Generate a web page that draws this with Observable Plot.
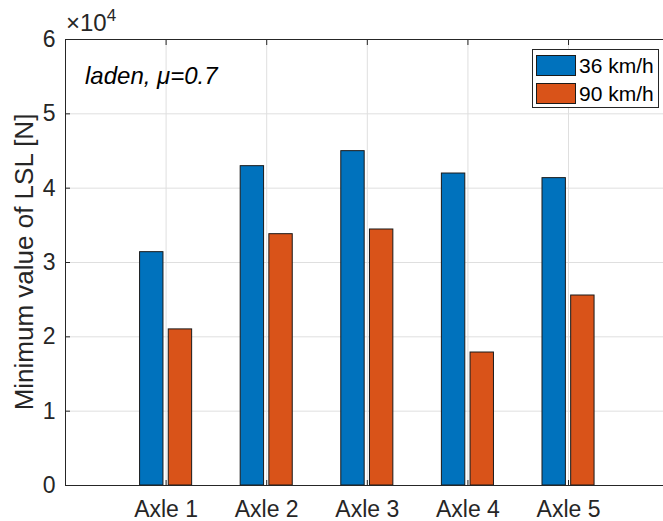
<!DOCTYPE html>
<html><head><meta charset="utf-8">
<script src="https://cdn.jsdelivr.net/npm/d3@7"></script>
<script src="https://cdn.jsdelivr.net/npm/@observablehq/plot@0.6"></script>
<style>
body{margin:0;background:#fff;}
#wrap{position:relative;width:663px;height:521px;overflow:hidden;font-family:"Liberation Sans",Arial,Helvetica,sans-serif;color:#262626;}
#wrap svg{position:absolute;left:0;top:0;}
.ov{position:absolute;white-space:nowrap;}
#expo{left:66px;top:11px;font-size:24px;line-height:24px;}
#expo sup{font-size:17px;position:relative;top:-4px;vertical-align:top;line-height:17px;}
#note{left:85px;top:64px;font-size:24px;line-height:24px;font-style:italic;color:#000;}
#ylab{left:24px;top:262px;font-size:26px;line-height:26px;transform:translate(-50%,-50%) rotate(-90deg);}
#legend{position:absolute;left:532px;top:49px;width:127px;height:59px;box-sizing:border-box;border:1px solid #262626;background:#fff;}
.lrow{position:absolute;left:3px;height:21px;width:120px;}
.sw{position:absolute;left:0;top:0;width:40px;height:21px;box-sizing:border-box;border:1px solid #1a1a1a;}
.lt{position:absolute;left:43px;top:0;line-height:21px;font-size:21px;color:#000;}
</style></head><body><div id="wrap"></div>
<script>
// ---- data ----
const axles = ["Axle 1", "Axle 2", "Axle 3", "Axle 4", "Axle 5"];
const speeds = ["36 km/h", "90 km/h"];
const lsl36 = [31390, 42960, 44980, 41970, 41350];
const lsl90 = [21000, 33810, 34440, 17890, 25560];
const colors = ["#0072BD", "#D95319"];
const yTicks = [0, 1, 2, 3, 4, 5, 6];
const xTicks = [1, 2, 3, 4, 5];
const exponent = 4;
const yLabel = "Minimum value of LSL [N]";
const note = "laden, \u03BC=0.7";

// ---- build table ----
const offsets = [-0.1425, 0.1425];
const barW = 0.2325;
const rows = [];
axles.forEach((a, i) => {
  [lsl36, lsl90].forEach((s, j) => rows.push({pos: xTicks[i], series: speeds[j], j, v: s[i] / 10 ** exponent}));
});

const innerTicksY = yTicks.slice(1, -1);
const axisColor = "#262626";

const chart = Plot.plot({
  width: 663, height: 521,
  marginLeft: 65, marginRight: 0, marginTop: 39, marginBottom: 36,
  style: {fontFamily: "'Liberation Sans', Arial, Helvetica, sans-serif", fontSize: "23px", color: axisColor, background: "transparent"},
  x: {type: "linear", domain: [0, 5.944], axis: null},
  y: {domain: [0, 6], axis: null},
  color: {domain: speeds, range: colors},
  marks: [
    Plot.gridY(innerTicksY, {stroke: "#dfdfdf", strokeOpacity: 1}),
    Plot.gridX(xTicks, {stroke: "#dfdfdf", strokeOpacity: 1}),
    Plot.rect(rows, {
      x1: d => d.pos + offsets[d.j] - barW / 2,
      x2: d => d.pos + offsets[d.j] + barW / 2,
      y1: () => 0, y2: "v", fill: "series", stroke: "#1a1a1a", strokeWidth: 1
    }),
    Plot.ruleY([0], {stroke: axisColor}),
    Plot.ruleY([6], {stroke: axisColor}),
    Plot.ruleX([0], {stroke: axisColor}),
    // inward ticks
    Plot.axisY(innerTicksY, {anchor: "left", tickSize: 5, dx: 5, tickFormat: () => "", label: null}),
    Plot.axisX(xTicks, {anchor: "bottom", tickSize: 5, dy: -5, tickFormat: () => "", label: null}),
    Plot.axisX(xTicks, {anchor: "top", tickSize: 5, dy: 5, tickFormat: () => "", label: null}),
    // tick labels
    Plot.axisY(yTicks, {anchor: "left", tickSize: 0, tickPadding: 10, fontSize: 23, tickFormat: d => String(d), label: null}),
    Plot.axisX(xTicks, {anchor: "bottom", tickSize: 0, tickPadding: 15, fontSize: 23, tickFormat: d => axles[d - 1], label: null})
  ]
});

const wrap = document.getElementById("wrap");
wrap.appendChild(chart);

const yl = document.createElement("div");
yl.className = "ov"; yl.id = "ylab"; yl.textContent = yLabel;
wrap.appendChild(yl);

const expo = document.createElement("div");
expo.className = "ov"; expo.id = "expo";
expo.innerHTML = "\u00D710<sup>" + exponent + "</sup>";
wrap.appendChild(expo);

const nt = document.createElement("div");
nt.className = "ov"; nt.id = "note"; nt.textContent = note;
wrap.appendChild(nt);

const lg = document.createElement("div");
lg.id = "legend";
speeds.forEach((s, j) => {
  const r = document.createElement("div");
  r.className = "lrow"; r.style.top = (5 + j * 28) + "px";
  const sw = document.createElement("div"); sw.className = "sw"; sw.style.background = colors[j];
  const t = document.createElement("div"); t.className = "lt"; t.textContent = s;
  r.appendChild(sw); r.appendChild(t); lg.appendChild(r);
});
wrap.appendChild(lg);
</script></body></html>
